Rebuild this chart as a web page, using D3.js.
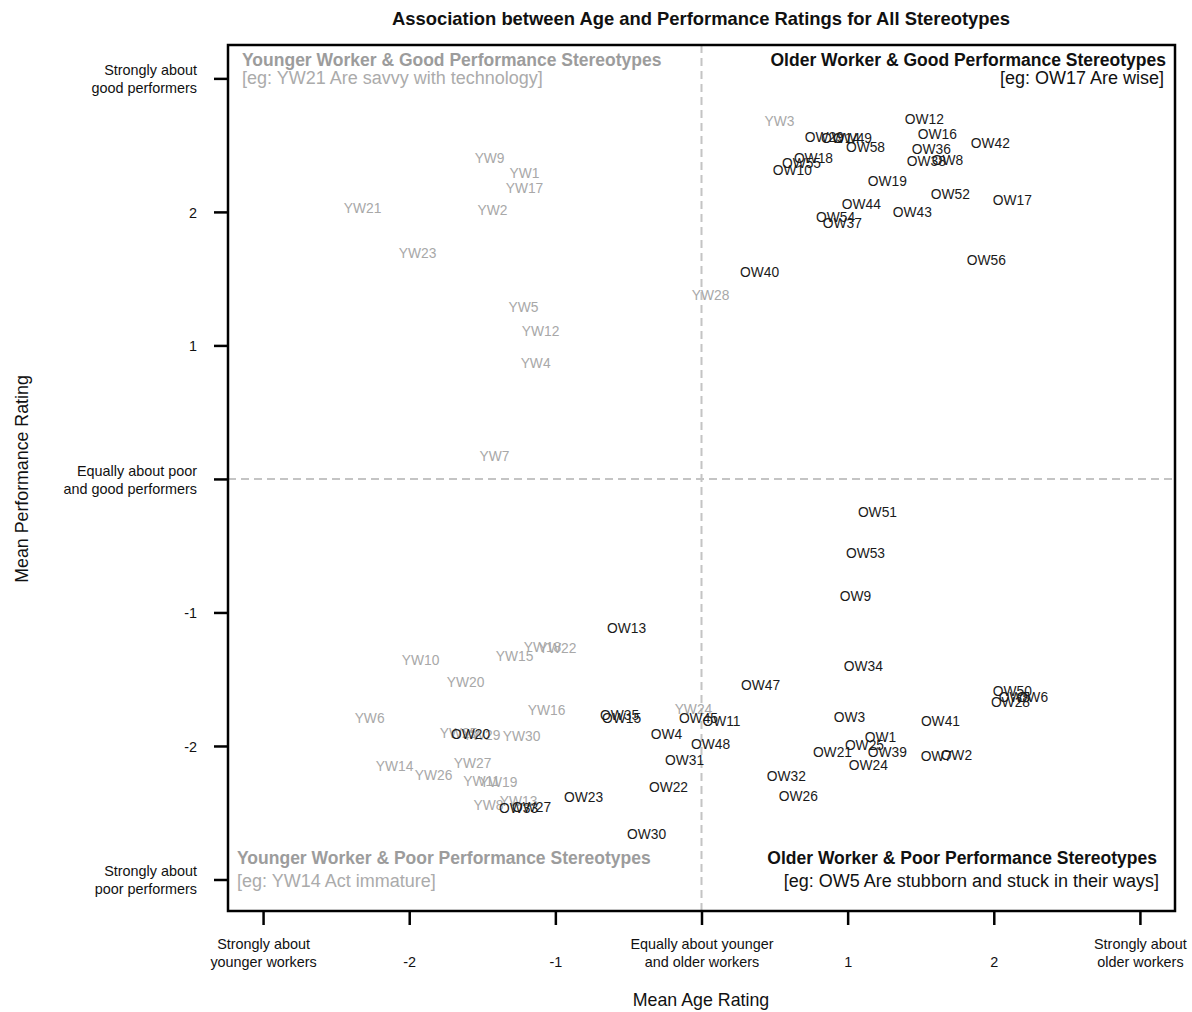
<!DOCTYPE html>
<html>
<head>
<meta charset="utf-8">
<script src="https://cdn.jsdelivr.net/npm/d3@7"></script>
<style>
  body { margin: 0; background: #fff; }
  svg { font-family: "Liberation Sans", Arial, sans-serif; }
</style>
</head>
<body>
<div id="chart"></div>
<script>
// Older-worker stereotypes: label, mean age rating, mean performance rating
const owLabels = ['OW12','OW29','OW14','OW49','OW16','OW42','OW58','OW36','OW38','OW8','OW18','OW55','OW10','OW19','OW52','OW17','OW44','OW43','OW54','OW37','OW56','OW40',
  'OW51','OW53','OW9','OW34','OW47','OW50','OW5','OW6','OW28','OW3','OW41','OW1','OW25','OW21','OW39','OW7','OW2','OW24','OW32','OW26',
  'OW13','OW35','OW15','OW45','OW11','OW4','OW48','OW31','OW22','OW23','OW30','OW20','OW33','OW27'];
const owAge = [1.525,0.841,0.951,1.033,1.614,1.977,1.122,1.573,1.539,1.683,0.766,0.684,0.622,1.272,1.703,2.127,1.094,1.443,0.917,0.964,1.949,0.397,
  1.204,1.122,1.053,1.108,0.404,2.127,2.141,2.264,2.114,1.012,1.635,1.224,1.115,0.896,1.272,1.607,1.744,1.142,0.581,0.663,
  -0.513,-0.561,-0.547,-0.021,0.137,-0.239,0.062,-0.116,-0.226,-0.807,-0.376,-1.580,-1.252,-1.163];
const owPerf = [2.697,2.562,2.554,2.554,2.584,2.517,2.487,2.472,2.382,2.390,2.404,2.367,2.315,2.232,2.135,2.090,2.060,2.000,1.963,1.918,1.640,1.551,
  -0.247,-0.554,-0.876,-1.401,-1.543,-1.588,-1.633,-1.633,-1.670,-1.783,-1.813,-1.933,-1.993,-2.045,-2.045,-2.075,-2.067,-2.142,-2.225,-2.375,
  -1.116,-1.768,-1.790,-1.790,-1.813,-1.910,-1.985,-2.105,-2.307,-2.382,-2.659,-1.910,-2.464,-2.457];

// Younger-worker stereotypes
const ywLabels = ['YW3','YW28','YW9','YW1','YW17','YW21','YW2','YW23','YW5','YW12','YW4','YW7',
  'YW24','YW18','YW22','YW15','YW10','YW20','YW16','YW6','YW25','YW29','YW30','YW14','YW27','YW26','YW11','YW19','YW13','YW8'];
const ywAge = [0.534,0.062,-1.450,-1.211,-1.211,-2.319,-1.430,-1.943,-1.218,-1.101,-1.135,-1.416,
  -0.055,-1.088,-0.985,-1.279,-1.922,-1.614,-1.060,-2.271,-1.662,-1.505,-1.231,-2.100,-1.566,-1.833,-1.505,-1.388,-1.252,-1.457];
const ywPerf = [2.682,1.378,2.404,2.292,2.180,2.030,2.015,1.693,1.288,1.109,0.869,0.172,
  -1.723,-1.258,-1.266,-1.326,-1.356,-1.521,-1.730,-1.790,-1.903,-1.918,-1.925,-2.150,-2.127,-2.217,-2.262,-2.270,-2.412,-2.442];

const xTickValues = [-3, -2, -1, 0, 1, 2, 3];
const xTickLabels = ['Strongly about\nyounger workers', '-2', '-1', 'Equally about younger\nand older workers', '1', '2', 'Strongly about\nolder workers'];
const yTickValues = [3, 2, 1, 0, -1, -2, -3];
const yTickLabels = ['Strongly about\ngood performers', '2', '1', 'Equally about poor\nand good performers', '-1', '-2', 'Strongly about\npoor performers'];

const width = 1192, height = 1012;
const box = { left: 228, right: 1175, top: 45, bottom: 911 };

const svg = d3.select('#chart').append('svg')
  .attr('width', width)
  .attr('height', height);

const x = d3.scaleLinear().domain([-3.24, 3.24]).range([box.left, box.right]);
const y = d3.scaleLinear().domain([-3.236, 3.25]).range([box.bottom, box.top]);

// reference lines at zero
svg.append('line')
  .attr('x1', x(0)).attr('x2', x(0))
  .attr('y1', box.top).attr('y2', box.bottom)
  .attr('stroke', '#c4c4c4').attr('stroke-width', 2).attr('stroke-dasharray', '8,5');
svg.append('line')
  .attr('x1', box.left).attr('x2', box.right)
  .attr('y1', y(0)).attr('y2', y(0))
  .attr('stroke', '#c4c4c4').attr('stroke-width', 2).attr('stroke-dasharray', '8,5');

// point labels
const ywData = ywLabels.map((l, i) => ({ label: l, age: ywAge[i], perf: ywPerf[i] }));
const owData = owLabels.map((l, i) => ({ label: l, age: owAge[i], perf: owPerf[i] }));

svg.append('g').selectAll('text')
  .data(ywData)
  .enter()
  .append('text')
  .attr('x', d => x(d.age))
  .attr('y', d => y(d.perf))
  .attr('dy', '0.36em')
  .attr('text-anchor', 'middle')
  .style('font-size', '13.8px')
  .style('fill', '#a8a8a8')
  .text(d => d.label);

svg.append('g').selectAll('text')
  .data(owData)
  .enter()
  .append('text')
  .attr('x', d => x(d.age))
  .attr('y', d => y(d.perf))
  .attr('dy', '0.36em')
  .attr('text-anchor', 'middle')
  .style('font-size', '13.8px')
  .style('fill', '#1a1a1a')
  .text(d => d.label);

// quadrant captions
const captions = [
  { x: 242, y: 60, anchor: 'start', bold: true, color: '#9c9c9c', text: 'Younger Worker & Good Performance Stereotypes' },
  { x: 242, y: 78, anchor: 'start', bold: false, color: '#ababab', text: '[eg: YW21 Are savvy with technology]' },
  { x: 1166, y: 60, anchor: 'end', bold: true, color: '#111', text: 'Older Worker & Good Performance Stereotypes' },
  { x: 1164, y: 78, anchor: 'end', bold: false, color: '#111', text: '[eg: OW17 Are wise]' },
  { x: 237, y: 858, anchor: 'start', bold: true, color: '#9c9c9c', text: 'Younger Worker & Poor Performance Stereotypes' },
  { x: 237, y: 881, anchor: 'start', bold: false, color: '#ababab', text: '[eg: YW14 Act immature]' },
  { x: 1157, y: 858, anchor: 'end', bold: true, color: '#111', text: 'Older Worker & Poor Performance Stereotypes' },
  { x: 1159, y: 881, anchor: 'end', bold: false, color: '#111', text: '[eg: OW5 Are stubborn and stuck in their ways]' }
];
svg.append('g').selectAll('text')
  .data(captions)
  .enter()
  .append('text')
  .attr('x', d => d.x)
  .attr('y', d => d.y)
  .attr('dy', '0.36em')
  .attr('text-anchor', d => d.anchor)
  .style('font-size', d => d.bold ? '17.5px' : '18px')
  .style('font-weight', d => d.bold ? 'bold' : 'normal')
  .style('fill', d => d.color)
  .text(d => d.text);

// frame
svg.append('rect')
  .attr('x', box.left).attr('y', box.top)
  .attr('width', box.right - box.left).attr('height', box.bottom - box.top)
  .attr('fill', 'none').attr('stroke', '#000').attr('stroke-width', 2.5);

// axes
function splitLines(sel, labels, xPos, lineGap, anchorBottom) {
  sel.selectAll('.tick text').each(function(d, i) {
    const t = d3.select(this);
    const lines = labels[i].split('\n');
    t.text(null);
    lines.forEach((line, j) => {
      let off;
      if (anchorBottom) off = (j - (lines.length - 1)) * lineGap;
      else off = (j - (lines.length - 1) / 2) * lineGap;
      t.append('tspan')
        .attr('x', xPos)
        .attr('y', off)
        .attr('dy', '0.36em')
        .text(line);
    });
  });
}

const yAxis = svg.append('g')
  .attr('transform', `translate(${box.left},0)`)
  .call(d3.axisLeft(y).tickValues(yTickValues).tickSize(14).tickPadding(17).tickFormat(''));
yAxis.select('.domain').remove();
yAxis.selectAll('.tick line').attr('stroke-width', 2.5).attr('stroke', '#000');
yAxis.selectAll('.tick text')
  .style('font-size', '14.4px').style('fill', '#111')
  .attr('text-anchor', 'end').attr('font-family', null);
splitLines(yAxis, yTickLabels, -31, 18, false);

const xAxis = svg.append('g')
  .attr('transform', `translate(0,${box.bottom})`)
  .call(d3.axisBottom(x).tickValues(xTickValues).tickSize(14).tickFormat(''));
xAxis.select('.domain').remove();
xAxis.selectAll('.tick line').attr('stroke-width', 2.5).attr('stroke', '#000');
xAxis.selectAll('.tick text')
  .style('font-size', '14.4px').style('fill', '#111')
  .attr('text-anchor', 'middle').attr('font-family', null);
splitLines(xAxis, xTickLabels, 0, 18, true);
xAxis.selectAll('.tick text tspan').attr('y', function() { return +d3.select(this).attr('y') + 51; });

// titles
svg.append('text')
  .attr('x', 701).attr('y', 18).attr('dy', '0.36em')
  .attr('text-anchor', 'middle')
  .style('font-size', '18.4px').style('font-weight', 'bold').style('fill', '#111')
  .text('Association between Age and Performance Ratings for All Stereotypes');

svg.append('text')
  .attr('x', 701).attr('y', 1000).attr('dy', '0.36em')
  .attr('text-anchor', 'middle')
  .style('font-size', '17.8px').style('fill', '#111')
  .text('Mean Age Rating');

svg.append('text')
  .attr('transform', 'translate(22,479) rotate(-90)')
  .attr('dy', '0.36em')
  .attr('text-anchor', 'middle')
  .style('font-size', '17.8px').style('fill', '#111')
  .text('Mean Performance Rating');
</script>
</body>
</html>
